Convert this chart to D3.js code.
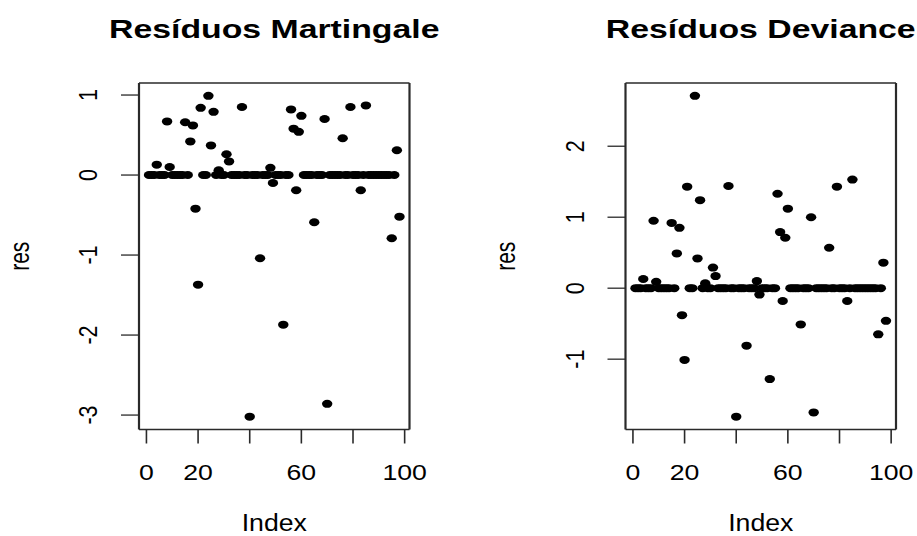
<!DOCTYPE html>
<html>
<head>
<meta charset="utf-8">
<script src="https://cdn.jsdelivr.net/npm/d3@7.9.0/dist/d3.min.js"></script>
<style>
  body { margin: 0; background: #fff; }
  svg { display: block; font-family: "Liberation Sans", Arial, sans-serif; }
</style>
</head>
<body>
<svg id="chart" width="917" height="536"></svg>
<script>
// residuals by observation index 1..98
const martingale = [
  0, 0, 0, 0.13, 0, 0, 0, 0.67, 0.10, 0,
  0, 0, 0, 0, 0.66, 0, 0.42, 0.62, -0.42, -1.37,
  0.84, 0, 0, 0.99, 0.37, 0.79, 0, 0.06, 0, 0,
  0.26, 0.17, 0, 0, 0, 0, 0.85, 0, 0, -3.02,
  0, 0, 0, -1.04, 0, 0, 0, 0.09, -0.10, 0,
  0, 0, -1.87, 0, 0, 0.82, 0.58, -0.19, 0.54, 0.74,
  0, 0, 0, 0, -0.59, 0, 0, 0, 0.70, -2.86,
  0, 0, 0, 0, 0, 0.46, 0, 0, 0.85, 0,
  0, 0, -0.19, 0, 0.87, 0, 0, 0, 0, 0,
  0, 0, 0, 0, -0.79, 0, 0.31, -0.52
];
const deviance = [
  0, 0, 0, 0.13, 0, 0, 0, 0.95, 0.09, 0,
  0, 0, 0, 0, 0.92, 0, 0.49, 0.85, -0.38, -1.01,
  1.43, 0, 0, 2.71, 0.42, 1.24, 0, 0.07, 0, 0,
  0.29, 0.17, 0, 0, 0, 0, 1.44, 0, 0, -1.81,
  0, 0, 0, -0.81, 0, 0, 0, 0.10, -0.09, 0,
  0, 0, -1.28, 0, 0, 1.33, 0.79, -0.18, 0.71, 1.12,
  0, 0, 0, 0, -0.51, 0, 0, 0, 1.00, -1.75,
  0, 0, 0, 0, 0, 0.57, 0, 0, 1.43, 0,
  0, 0, -0.18, 0, 1.53, 0, 0, 0, 0, 0,
  0, 0, 0, 0, -0.65, 0, 0.36, -0.46
];
const titles = ["Resíduos Martingale", "Resíduos Deviance"];
const xTicks = [0, 20, 40, 60, 80, 100];
const xTickLabels = ["0", "20", "", "60", "", "100"];
const yTicksMart = [-3, -2, -1, 0, 1];
const yTicksDev = [-1, 0, 1, 2];

const svg = d3.select("#chart");
const SX = 1.3; // the picture is stretched sideways

function label(g, x, y, str, opts) {
  const o = Object.assign({ size: 20, weight: "normal", sx: SX, rot: false, anchor: "middle" }, opts);
  g.append("text")
    .attr("transform", `translate(${x},${y}) scale(${o.sx},1)` + (o.rot ? " rotate(-90)" : ""))
    .attr("text-anchor", o.anchor)
    .attr("font-size", o.size)
    .attr("font-weight", o.weight)
    .attr("fill", "#000")
    .text(str);
}

function panel(values, title, yTicks, dx) {
  const g = svg.append("g").attr("transform", `translate(${dx},0)`);
  const left = 139, right = 409.5, top = 83, bottom = 429.5;
  const n = values.length;
  const padX = 0.04 * (n - 1);
  const x = d3.scaleLinear().domain([1 - padX, n + padX]).range([left, right]);
  const [lo, hi] = d3.extent(values);
  const padY = 0.04 * (hi - lo);
  const y = d3.scaleLinear().domain([lo - padY, hi + padY]).range([bottom, top]);

  // points
  g.selectAll("ellipse").data(values).join("ellipse")
    .attr("cx", (d, i) => x(i + 1))
    .attr("cy", d => y(d))
    .attr("rx", 5.2)
    .attr("ry", 4)
    .attr("fill", "#000");

  // box
  const stroke = "#2a2a2a";
  g.append("line").attr("x1", left).attr("x2", right).attr("y1", top).attr("y2", top)
    .attr("stroke", stroke).attr("stroke-width", 1.5);
  g.append("line").attr("x1", left).attr("x2", right).attr("y1", bottom).attr("y2", bottom)
    .attr("stroke", stroke).attr("stroke-width", 1.5);
  g.append("line").attr("x1", left).attr("x2", left).attr("y1", top).attr("y2", bottom)
    .attr("stroke", stroke).attr("stroke-width", 2.2);
  g.append("line").attr("x1", right).attr("x2", right).attr("y1", top).attr("y2", bottom)
    .attr("stroke", stroke).attr("stroke-width", 2.2);

  // x axis
  xTicks.forEach((t, i) => {
    g.append("line").attr("x1", x(t)).attr("x2", x(t)).attr("y1", bottom).attr("y2", bottom + 14)
      .attr("stroke", stroke).attr("stroke-width", 1.6);
    if (xTickLabels[i]) label(g, x(t), 479.5, xTickLabels[i], { size: 21.5, sx: 1.24 });
  });

  // y axis
  yTicks.forEach(t => {
    g.append("line").attr("x1", left - 18).attr("x2", left).attr("y1", y(t)).attr("y2", y(t))
      .attr("stroke", stroke).attr("stroke-width", 1.3);
    label(g, 97, y(t), String(t), { size: 21.5, sx: 1.24, rot: true });
  });

  label(g, (left + right) / 2, 38, title, { size: 26, weight: "bold" });
  label(g, (left + right) / 2, 531, "Index", { size: 23, sx: 1.16 });
  label(g, 28.5, (top + bottom) / 2, "res", { size: 21, sx: 1.35, rot: true });
}

panel(martingale, titles[0], yTicksMart, 0);
panel(deviance, titles[1], yTicksDev, 486.5);
</script>
</body>
</html>
